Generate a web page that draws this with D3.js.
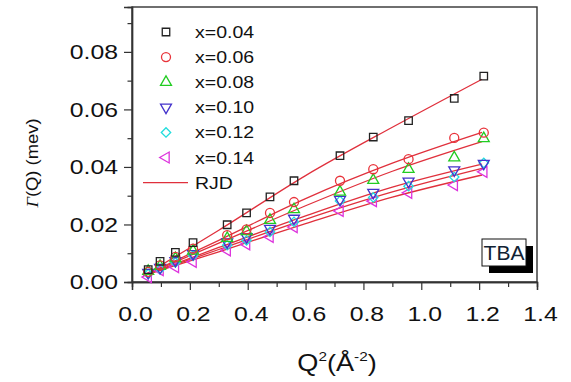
<!DOCTYPE html>
<html>
<head>
<meta charset="utf-8">
<script src="https://cdn.jsdelivr.net/npm/d3@7"></script>
<style>
  body { margin: 0; background: #fff; }
  text { font-family: "Liberation Sans", Arial, sans-serif; }
</style>
</head>
<body>
<svg id="chart" width="571" height="382"></svg>
<script>
// measured Q^2 positions (A^-2)
const q2 = [0.056, 0.097, 0.150, 0.211, 0.329, 0.396, 0.477, 0.560, 0.719, 0.834, 0.956, 1.114, 1.216]

// linewidths Gamma(Q) in meV, one array per concentration
const g004 = [0.0043, 0.0072, 0.0103, 0.0137, 0.0199, 0.0240, 0.0296, 0.0352, 0.0439, 0.0504, 0.0561, 0.0638, 0.0716]
const g006 = [0.0035, 0.0058, 0.0087, 0.0116, 0.0163, 0.0183, 0.0240, 0.0278, 0.0352, 0.0392, 0.0427, 0.0501, 0.0519]
const g008 = [0.0038, 0.0055, 0.0082, 0.0108, 0.0152, 0.0176, 0.0215, 0.0252, 0.0313, 0.0354, 0.0392, 0.0432, 0.0499]
const g010 = [0.0033, 0.0050, 0.0074, 0.0098, 0.0139, 0.0157, 0.0186, 0.0221, 0.0287, 0.0311, 0.0350, 0.0389, 0.0412]
const g012 = [0.0028, 0.0045, 0.0068, 0.0092, 0.0128, 0.0145, 0.0174, 0.0209, 0.0282, 0.0294, 0.0333, 0.0365, 0.0414]
const g014 = [0.0017, 0.0041, 0.0052, 0.0070, 0.0110, 0.0131, 0.0157, 0.0191, 0.0247, 0.0281, 0.0310, 0.0337, 0.0383]

// RJD fit curves
const fitQ2 = [0.04, 0.3, 0.6, 0.9, 1.21]
const fit004 = [0.0022, 0.0180, 0.0370, 0.0538, 0.0705]
const fit006 = [0.0022, 0.0145, 0.0290, 0.0413, 0.0520]
const fit008 = [0.0022, 0.0135, 0.0265, 0.0385, 0.0488]
const fit010 = [0.0022, 0.0120, 0.0230, 0.0330, 0.0410]
const fit012 = [0.0022, 0.0113, 0.0218, 0.0313, 0.0395]
const fit014 = [0.0022, 0.0105, 0.0203, 0.0295, 0.0372]

const labels = ["x=0.04", "x=0.06", "x=0.08", "x=0.10", "x=0.12", "x=0.14"]
const xTicks = [0, 0.2, 0.4, 0.6, 0.8, 1.0, 1.2, 1.4]
const yTicks = [0, 0.02, 0.04, 0.06, 0.08]

const series = [
  { label: labels[0], vals: g004, fit: fit004, color: "#222222", shape: "square" },
  { label: labels[1], vals: g006, fit: fit006, color: "#e8333a", shape: "circle" },
  { label: labels[2], vals: g008, fit: fit008, color: "#22cc22", shape: "up" },
  { label: labels[3], vals: g010, fit: fit010, color: "#4433cc", shape: "down" },
  { label: labels[4], vals: g012, fit: fit012, color: "#22dddd", shape: "diamond" },
  { label: labels[5], vals: g014, fit: fit014, color: "#dd33dd", shape: "left" }
]

const MARGIN = { LEFT: 132, TOP: 7 }
const W = 405, H = 275
const STRETCH = 1.18
const lineColor = "#e0303c"

const svg = d3.select("#chart")
const g = svg.append("g").attr("transform", `translate(${MARGIN.LEFT},${MARGIN.TOP})`)

const xScale = d3.scaleLinear().domain([0, 1.4]).range([0, W])
const yScale = d3.scaleLinear().domain([0, 0.0956]).range([H, 0])

function symbolPath(shape) {
  const types = { square: d3.symbolSquare, circle: d3.symbolCircle, diamond: d3.symbolSquare,
                  up: d3.symbolTriangle, down: d3.symbolTriangle, left: d3.symbolTriangle }
  const sizes = { square: 56, circle: 64, diamond: 44, up: 52, down: 52, left: 52 }
  return d3.symbol().type(types[shape]).size(sizes[shape])()
}
function symbolRotate(shape) {
  return { diamond: 45, down: 180, left: -90 }[shape] || 0
}

// frame
g.append("rect")
  .attr("width", W).attr("height", H)
  .attr("fill", "none").attr("stroke", "#333").attr("stroke-width", 1.4)

// axes
const xAxis = g.append("g").attr("transform", `translate(0,${H})`)
  .call(d3.axisBottom(xScale).tickValues(xTicks).tickSize(8).tickFormat(d3.format(".1f")))
g.append("g").attr("transform", `translate(0,${H})`)
  .call(d3.axisBottom(xScale).tickValues(d3.range(0.1, 1.4, 0.2)).tickSize(5).tickFormat(""))
const yAxis = g.append("g")
  .call(d3.axisLeft(yScale).tickValues(yTicks).tickSize(8).tickFormat(d3.format(".2f")))
g.append("g")
  .call(d3.axisLeft(yScale).tickValues([0.01, 0.03, 0.05, 0.07, 0.09]).tickSize(4.5).tickFormat(""))

g.selectAll(".domain").attr("stroke", "#333").attr("stroke-width", 1.4)
g.selectAll(".tick line").attr("stroke", "#333").attr("stroke-width", 1.2)

xAxis.selectAll("text")
  .attr("font-size", 21).attr("fill", "#111")
  .attr("y", 24).attr("dy", "0.71em")
  .attr("x", 3 / STRETCH)
  .attr("transform", `scale(${STRETCH},1)`)
yAxis.selectAll("text")
  .attr("font-size", 21).attr("fill", "#111")
  .attr("x", -14 / STRETCH)
  .attr("transform", `scale(${STRETCH},1)`)
g.selectAll(".tick text").style("font-family", "'Liberation Sans', Arial, sans-serif")

// fit lines
const line = d3.line()
  .x((d, i) => xScale(fitQ2[i]))
  .y(d => yScale(d))
  .curve(d3.curveMonotoneX)

series.forEach(s => {
  g.append("path")
    .datum(s.fit)
    .attr("fill", "none")
    .attr("stroke", lineColor)
    .attr("stroke-width", 1.3)
    .attr("d", line)
})

// markers, drawn from the last series up so black squares sit on top
series.slice().reverse().forEach(s => {
  g.append("g").selectAll("path")
    .data(s.vals)
    .join("path")
    .attr("d", symbolPath(s.shape))
    .attr("transform", (d, i) => `translate(${xScale(q2[i])},${yScale(d)}) rotate(${symbolRotate(s.shape)})`)
    .attr("fill", "none")
    .attr("stroke", s.color)
    .attr("stroke-width", 1.3)
})

// legend
const legend = svg.append("g").attr("transform", "translate(166,32)")
const rows = legend.selectAll("g").data(series).join("g")
  .attr("transform", (d, i) => `translate(0,${i * 25.1})`)
rows.append("path")
  .attr("d", d => symbolPath(d.shape))
  .attr("transform", d => `rotate(${symbolRotate(d.shape)})`)
  .attr("fill", "none")
  .attr("stroke", d => d.color)
  .attr("stroke-width", 1.3)
rows.append("text")
  .attr("transform", `translate(29,6) scale(1.22,1)`)
  .attr("font-size", 16)
  .attr("fill", "#111")
  .text(d => d.label)

const rjd = legend.append("g").attr("transform", `translate(0,${6 * 25.1})`)
rjd.append("line")
  .attr("x1", -23).attr("x2", 22)
  .attr("stroke", lineColor).attr("stroke-width", 1.3)
rjd.append("text")
  .attr("transform", `translate(29,6) scale(1.22,1)`)
  .attr("font-size", 16)
  .attr("fill", "#111")
  .text("RJD")

// TBA tag
const tag = svg.append("g").attr("transform", "translate(482,239)")
tag.append("rect").attr("x", 7).attr("y", 7).attr("width", 44).attr("height", 27).attr("fill", "#000")
tag.append("rect").attr("width", 44).attr("height", 27)
  .attr("fill", "#fff").attr("stroke", "#111").attr("stroke-width", 1)
tag.append("text")
  .attr("x", 22).attr("y", 21)
  .attr("text-anchor", "middle")
  .attr("font-size", 21)
  .attr("fill", "#112233")
  .text("TBA")

// axis titles
const xt = svg.append("text")
  .attr("transform", `translate(337,371) scale(1.18,1)`)
  .attr("text-anchor", "middle")
  .attr("font-size", 23)
  .attr("fill", "#111")
xt.append("tspan").text("Q")
xt.append("tspan").attr("font-size", 13).attr("dy", -10).text("2")
xt.append("tspan").attr("dy", 10).text("(Å")
xt.append("tspan").attr("font-size", 13).attr("dy", -10).text("-2")
xt.append("tspan").attr("dy", 10).text(")")

const yt = svg.append("text")
  .attr("transform", `translate(38,163) rotate(-90) scale(1.15,1)`)
  .attr("text-anchor", "middle")
  .attr("font-size", 16)
  .attr("fill", "#111")
yt.append("tspan").attr("font-style", "italic").attr("font-family", "'Liberation Serif', serif").text("Γ")
yt.append("tspan").text("(Q) (mev)")
</script>
</body>
</html>
